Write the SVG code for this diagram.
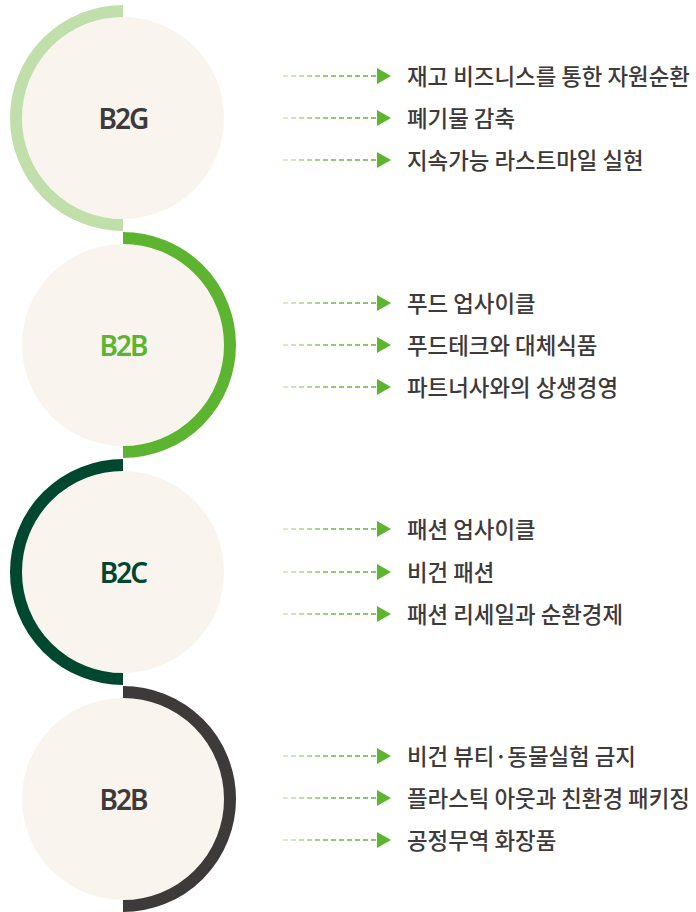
<svg xmlns="http://www.w3.org/2000/svg" width="696" height="912" viewBox="0 0 696 912">
<defs>
<linearGradient id="dg" gradientUnits="userSpaceOnUse" x1="283" y1="0" x2="376" y2="0">
<stop offset="0" stop-color="#5db430" stop-opacity="0.3"/>
<stop offset="0.5" stop-color="#5db430" stop-opacity="0.9"/>
<stop offset="1" stop-color="#5db430" stop-opacity="1"/>
</linearGradient>
<marker id="ah" markerWidth="14" markerHeight="16" refX="0" refY="8" orient="auto" markerUnits="userSpaceOnUse">
<path d="M0,0 L14,8 L0,16 Z" fill="#5db430"/>
</marker>
</defs>
<style>
.fill{fill:#f9f5ee}
.arc{fill:none;stroke-width:12}
.lbl{font-family:"Noto Sans","Noto Sans CJK KR",sans-serif;font-weight:600;font-size:28px;letter-spacing:-2px;text-anchor:middle;dominant-baseline:central}
.item{font-family:"Noto Sans CJK KR","Noto Sans",sans-serif;font-weight:500;font-size:22.4px;fill:#3e3a39;dominant-baseline:central}
.dash{stroke:url(#dg);stroke-width:1.3;stroke-dasharray:5 3;fill:none}
</style>
<g id="node-b2g">
<circle class="fill" cx="123" cy="118" r="101"/>
<path class="arc" stroke="#c1dfaa" d="M123,11 A107,107 0 0 0 123,225"/>
<text class="lbl" x="123" y="118" fill="#3e3a39">B2G</text>
<text class="item" x="407" y="75">재고 비즈니스를 통한 자원순환</text>
<text class="item" x="407" y="117">폐기물 감축</text>
<text class="item" x="407" y="159">지속가능 라스트마일 실현</text>
</g>
<g id="node-b2b-1">
<circle class="fill" cx="123" cy="345" r="101"/>
<path class="arc" stroke="#5db430" d="M123,238 A107,107 0 0 1 123,452"/>
<text class="lbl" x="123" y="345" fill="#5db430">B2B</text>
<text class="item" x="407" y="302">푸드 업사이클</text>
<text class="item" x="407" y="344">푸드테크와 대체식품</text>
<text class="item" x="407" y="386">파트너사와의 상생경영</text>
</g>
<g id="node-b2c">
<circle class="fill" cx="123" cy="572" r="101"/>
<path class="arc" stroke="#004730" d="M123,465 A107,107 0 0 0 123,679"/>
<text class="lbl" x="123" y="572" fill="#004730">B2C</text>
<text class="item" x="407" y="528">패션 업사이클</text>
<text class="item" x="407" y="571">비건 패션</text>
<text class="item" x="407" y="613">패션 리세일과 순환경제</text>
</g>
<g id="node-b2b-2">
<circle class="fill" cx="123" cy="799" r="101"/>
<path class="arc" stroke="#3e3a39" d="M123,692 A107,107 0 0 1 123,906"/>
<text class="lbl" x="123" y="799" fill="#3e3a39">B2B</text>
<text class="item" x="407" y="755">비건 뷰티·동물실험 금지</text>
<text class="item" x="407" y="797">플라스틱 아웃과 친환경 패키징</text>
<text class="item" x="407" y="839">공정무역 화장품</text>
</g>
<g id="connectors">
<path class="dash" d="M283,76 H377" marker-end="url(#ah)"/>
<path class="dash" d="M283,118 H377" marker-end="url(#ah)"/>
<path class="dash" d="M283,160 H377" marker-end="url(#ah)"/>
<path class="dash" d="M283,303 H377" marker-end="url(#ah)"/>
<path class="dash" d="M283,345 H377" marker-end="url(#ah)"/>
<path class="dash" d="M283,387 H377" marker-end="url(#ah)"/>
<path class="dash" d="M283,529 H377" marker-end="url(#ah)"/>
<path class="dash" d="M283,572 H377" marker-end="url(#ah)"/>
<path class="dash" d="M283,614 H377" marker-end="url(#ah)"/>
<path class="dash" d="M283,756 H377" marker-end="url(#ah)"/>
<path class="dash" d="M283,798 H377" marker-end="url(#ah)"/>
<path class="dash" d="M283,840 H377" marker-end="url(#ah)"/>
</g>
</svg>
